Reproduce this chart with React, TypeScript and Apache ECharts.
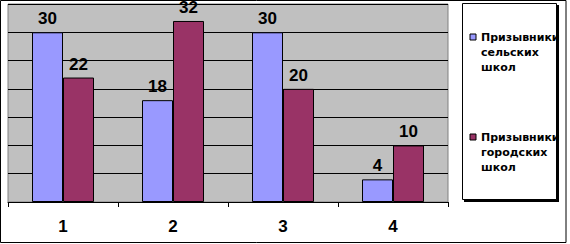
import React, { useEffect, useRef } from "react";
import * as echarts from "echarts";

const categories = ["1", "2", "3", "4"];
const ruralValues = [30, 18, 30, 4];
const urbanValues = [22, 32, 20, 10];
const seriesNames = ["Призывники\nсельских\nшкол", "Призывники\nгородских\nшкол"];
const seriesColors = ["#9999ff", "#993366"];
const yMax = 35;
const yInterval = 5;

const FONT = "'Liberation Sans', Arial, sans-serif";
const LEGEND_FONT = "'DejaVu Sans', 'Liberation Sans', sans-serif";

export default function App() {
  const ref = useRef<HTMLDivElement>(null);

  useEffect(() => {
    if (!ref.current) return;
    const chart = echarts.init(ref.current, undefined, { renderer: "svg" });

    const legendItems: any[] = [];
    seriesNames.forEach((name, i) => {
      const top = 34 + i * 100;
      legendItems.push({
        type: "rect",
        z: 110,
        shape: { x: 470, y: top, width: 6, height: 6 },
        style: { fill: seriesColors[i], stroke: "#000", lineWidth: 1 },
      });
      legendItems.push({
        type: "text",
        z: 110,
        x: 481,
        y: top - 4,
        style: {
          text: name,
          fontFamily: LEGEND_FONT,
          fontWeight: "bold",
          fontSize: 11,
          fill: "#000",
          lineHeight: 15,
        },
      });
    });

    const valueLabel = {
      show: true,
      position: "top" as const,
      distance: 5,
      color: "#000",
      fontFamily: FONT,
      fontWeight: "bold" as const,
      fontSize: 17,
    };

    chart.setOption({
      animation: false,
      backgroundColor: "#fff",
      grid: {
        left: 8,
        top: 4,
        width: 440,
        height: 198,
        show: true,
        backgroundColor: "#c0c0c0",
        borderColor: "#808080",
        borderWidth: 1,
      },
      xAxis: {
        type: "category",
        data: categories,
        axisLine: { show: true, lineStyle: { color: "#000", width: 1 } },
        axisTick: { show: true, length: 5, lineStyle: { color: "#000" } },
        axisLabel: {
          color: "#000",
          fontFamily: FONT,
          fontWeight: "bold",
          fontSize: 17,
          margin: 16,
        },
      },
      yAxis: {
        type: "value",
        min: 0,
        max: yMax,
        interval: yInterval,
        axisLine: { show: false },
        axisTick: { show: false },
        axisLabel: { show: false },
        splitLine: { show: true, lineStyle: { color: "#000", width: 1 } },
      },
      series: [
        {
          type: "bar",
          name: seriesNames[0],
          data: ruralValues,
          barWidth: 31,
          barGap: "0%",
          itemStyle: { color: seriesColors[0], borderColor: "#000", borderWidth: 1 },
          label: valueLabel,
        },
        {
          type: "bar",
          name: seriesNames[1],
          data: urbanValues,
          barWidth: 31,
          barGap: "0%",
          itemStyle: { color: seriesColors[1], borderColor: "#000", borderWidth: 1 },
          label: valueLabel,
        },
      ],
      graphic: [
        {
          type: "rect",
          shape: { x: 0.5, y: 0.5, width: 565.5, height: 242 },
          style: { fill: "none", stroke: "#000", lineWidth: 1 },
          z: 100,
        },
        {
          type: "rect",
          shape: { x: 464, y: 5, width: 95, height: 197 },
          style: { fill: "#000" },
          z: 100,
        },
        {
          type: "rect",
          shape: { x: 462.5, y: 3.5, width: 94, height: 196 },
          style: { fill: "#fff", stroke: "#000", lineWidth: 1 },
          z: 101,
        },
        ...legendItems,
      ],
    });

    return () => chart.dispose();
  }, []);

  return (
    <div
      ref={ref}
      style={{ position: "fixed", left: 0, top: 0, width: 570, height: 244 }}
    />
  );
}
